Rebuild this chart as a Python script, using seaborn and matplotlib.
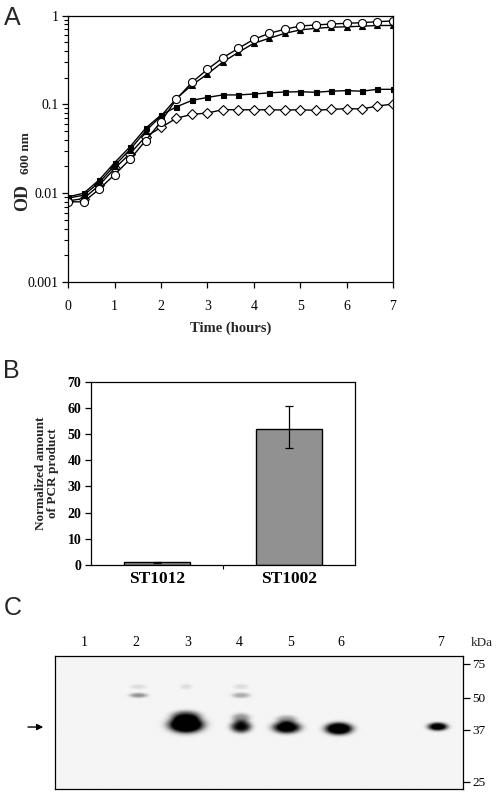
import matplotlib
matplotlib.use("Agg")
import matplotlib.pyplot as plt
import matplotlib.ticker as mticker
import numpy as np
import pandas as pd
import seaborn as sns

# ---- panel A: growth curves (OD600, sampled every 20 min) ----
time_h = [i / 3 for i in range(22)]
od_circle = [0.0080, 0.0080, 0.0111, 0.0162, 0.0241, 0.0391, 0.064, 0.115, 0.177, 0.248, 0.336,
             0.428, 0.541, 0.632, 0.702, 0.765, 0.785, 0.805, 0.82, 0.834, 0.856, 0.871]
od_triangle = [0.0088, 0.0095, 0.0132, 0.0205, 0.031, 0.050, 0.074, 0.117, 0.165, 0.220, 0.300,
               0.386, 0.488, 0.556, 0.632, 0.690, 0.720, 0.740, 0.750, 0.760, 0.775, 0.775]
od_square = [0.0091, 0.0100, 0.0141, 0.0221, 0.0334, 0.0538, 0.076, 0.094, 0.111, 0.120, 0.128,
             0.128, 0.131, 0.135, 0.138, 0.139, 0.137, 0.141, 0.143, 0.141, 0.148, 0.148]
od_diamond = [0.0082, 0.0087, 0.0123, 0.019, 0.028, 0.0433, 0.055, 0.070, 0.0773, 0.080, 0.0873,
              0.087, 0.087, 0.087, 0.0866, 0.087, 0.0859, 0.088, 0.0895, 0.089, 0.096, 0.101]

# ---- panel B: normalized PCR product ----
strains = ["ST1012", "ST1002"]
pcr_mean = [1.0, 52.1]
pcr_err_low = [0.2, 7.5]
pcr_err_high = [0.2, 8.6]

# ---- panel C: western blot ----
lane_labels = ["1", "2", "3", "4", "5", "6", "7"]
lane_x = [0.071, 0.199, 0.326, 0.451, 0.578, 0.701, 0.946]
marker_kda = [75, 50, 37, 25]
marker_mig = [0.062, 0.317, 0.557, 0.947]   # migration, fraction of blot height
# bands: lane index, x offset, migration, intensity, half-width, half-height
band_lane = [1, 1, 2, 2, 2, 3, 3, 3, 3, 4, 4, 5, 6]
band_dx = [0.005, 0.005, -0.005, -0.005, -0.005, 0.005, 0.005, 0.005, 0.005, -0.01, -0.01, -0.005, -0.007]
band_mig = [0.300, 0.235, 0.520, 0.455, 0.235, 0.535, 0.470, 0.300, 0.235, 0.540, 0.480, 0.550, 0.535]
band_int = [0.40, 0.10, 1.60, 0.70, 0.10, 1.00, 0.40, 0.30, 0.10, 1.20, 0.35, 1.40, 1.20]
band_w = [0.022, 0.020, 0.042, 0.035, 0.015, 0.025, 0.022, 0.022, 0.018, 0.034, 0.025, 0.033, 0.024]
band_h = [0.018, 0.018, 0.060, 0.040, 0.020, 0.045, 0.035, 0.020, 0.020, 0.045, 0.030, 0.045, 0.030]

sns.set_theme(style="ticks")
plt.rcParams["font.family"] = ["Liberation Serif", "DejaVu Serif"]
plt.rcParams["axes.edgecolor"] = "black"
plt.rcParams["axes.linewidth"] = 0.9
for k in ["xtick", "ytick"]:
    plt.rcParams[k + ".color"] = "black"
    plt.rcParams[k + ".major.width"] = 0.9
    plt.rcParams[k + ".minor.width"] = 0.8

fig = plt.figure(figsize=(4.98, 7.95), dpi=100)

# ================= A =================
axA = fig.add_axes([0.137, 0.6453, 0.652, 0.335])
series = [
    (od_diamond, "D", "white", 5.0),
    (od_square, "s", "black", 3.6),
    (od_triangle, "^", "black", 4.2),
    (od_circle, "o", "white", 5.8),
]
for vals, mk, fc, ms in series:
    sns.lineplot(x=time_h, y=vals, ax=axA, color="black", lw=1.0, marker=mk,
                 markerfacecolor=fc, markeredgecolor="black", markeredgewidth=0.8,
                 markersize=ms)
axA.set_yscale("log")
axA.set_ylim(0.001, 1)
axA.set_xlim(0, 7)
axA.set_xticks(range(8))
axA.set_yticks([0.001, 0.01, 0.1, 1])
axA.yaxis.set_major_formatter(mticker.FixedFormatter(["0.001", "0.01", "0.1", "1"]))
axA.yaxis.set_minor_locator(mticker.LogLocator(base=10, subs=np.arange(2, 10)))
axA.yaxis.set_minor_formatter(mticker.NullFormatter())
axA.tick_params(axis="both", which="major", length=4, labelsize=10, pad=9)
axA.tick_params(axis="y", which="major", pad=3)
axA.tick_params(axis="y", which="minor", length=3)
axA.set_xlabel("Time (hours)", fontsize=10.5, fontweight="bold", labelpad=6)
# OD with subscript, written as two rotated texts
fig.text(0.045, 0.752, "OD", rotation=90, fontsize=13, fontweight="bold",
         ha="center", va="center")
fig.text(0.052, 0.808, "600 nm", rotation=90, fontsize=9.5, fontweight="bold",
         ha="center", va="center")

# ================= B =================
axB = fig.add_axes([0.1827, 0.2893, 0.530, 0.2306])
sns.barplot(x=strains, y=pcr_mean, ax=axB, color="#919191", edgecolor="black",
            linewidth=1.0, width=0.5, errorbar=None, saturation=1)
axB.errorbar(range(len(strains)), pcr_mean, yerr=[pcr_err_low, pcr_err_high],
             fmt="none", ecolor="black", elinewidth=0.9, capsize=3, capthick=0.9)
axB.set_xlim(-0.5, 1.5)
axB.set_ylim(0, 70)
axB.set_yticks(range(0, 71, 10))
axB.xaxis.set_minor_locator(mticker.FixedLocator([0.5]))
axB.tick_params(axis="x", which="major", length=0, labelsize=12.5, pad=4)
axB.tick_params(axis="x", which="minor", length=3)
axB.tick_params(axis="y", length=4, labelsize=10, pad=3)
for lab in axB.get_xticklabels() + axB.get_yticklabels():
    lab.set_fontweight("bold")
axB.set_ylabel("Normalized amount\nof PCR product", fontsize=9.5, fontweight="bold",
               labelpad=6, linespacing=1.0)

# ================= C =================
axC = fig.add_axes([0.1104, 0.0075, 0.819, 0.1677])
gx = np.linspace(0, 1, 500)
gy = np.linspace(0, 1, 170)
X, Y = np.meshgrid(gx, gy)
dens = np.zeros_like(X)
for ln, dx, mg, it, w, h in zip(band_lane, band_dx, band_mig, band_int, band_w, band_h):
    r2 = ((X - lane_x[ln] - dx) / w) ** 2 + ((Y - mg) / h) ** 2
    dens += it * np.exp(-r2 ** 1.6)
img = 0.96 - 0.96 * np.clip(dens, 0, 1)
axC.imshow(img, cmap="gray", vmin=0, vmax=1, extent=[0, 1, 1, 0], aspect="auto",
           interpolation="bilinear")
axC.set_xlim(0, 1)
axC.set_ylim(1, 0)
axC.xaxis.tick_top()
axC.set_xticks(lane_x)
axC.set_xticklabels(lane_labels)
axC.tick_params(axis="x", length=0, labelsize=10, pad=5)
axC.yaxis.tick_right()
axC.set_yticks(marker_mig)
axC.set_yticklabels([str(k) for k in marker_kda])
axC.tick_params(axis="y", length=5, labelsize=9.5, pad=2)
axC.text(1.047, 1.095, "kDa", transform=axC.transAxes, fontsize=9.5, ha="center", va="center")
axC.annotate("", xy=(-0.022, 0.535), xytext=(-0.073, 0.535), xycoords="data",
             arrowprops=dict(arrowstyle="-|>", color="black", lw=1.0, mutation_scale=9),
             annotation_clip=False)

# panel letters
for letter, yy in [("A", 0.993), ("B", 0.548), ("C", 0.250)]:
    fig.text(0.007, yy, letter, fontsize=18, family="Liberation Sans", va="top", ha="left")

fig.savefig("out.png", dpi=100)
